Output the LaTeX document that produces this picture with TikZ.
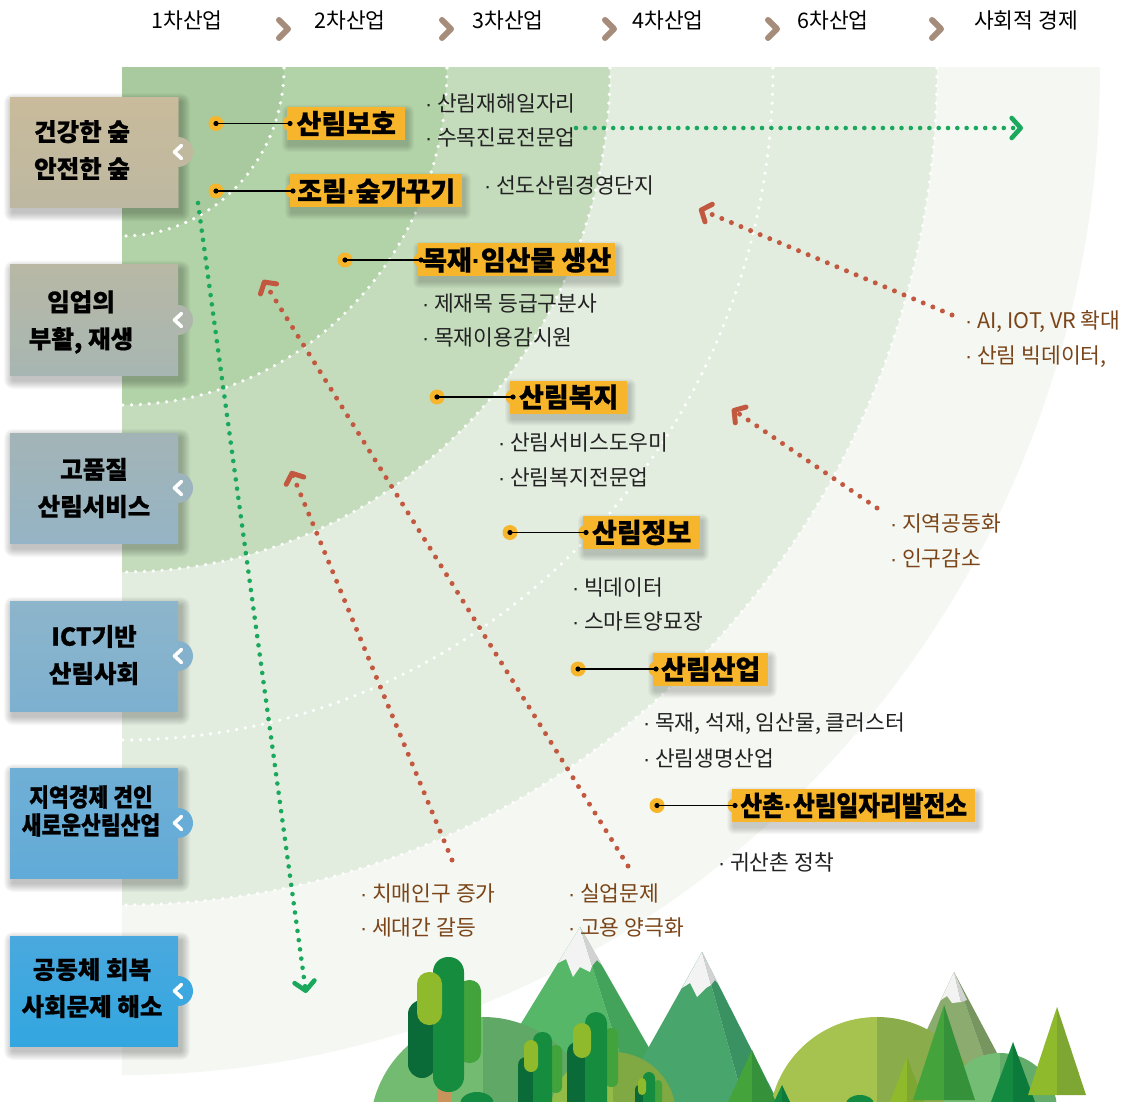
\documentclass[tikz,border=0pt]{standalone}
\usepackage{fontspec}
\setmainfont{Noto Sans CJK KR}
\newfontfamily\heavykr{Noto Sans CJK KR}[BoldFeatures={FakeBold=0.7}]
\newfontfamily\narrowkr{Noto Sans CJK KR}[FakeStretch=0.86,BoldFeatures={FakeBold=0.7}]
\newfontfamily\latinfont{Liberation Sans}
\usetikzlibrary{arrows.meta}

% narrow middle dot
\newcommand\md{{\latinfont\char"00B7}}

% panel bands
\definecolor{bandA}{HTML}{A8CA9E}
\definecolor{bandB}{HTML}{B2D2A8}
\definecolor{bandC}{HTML}{C4DCBC}
\definecolor{bandE}{HTML}{E3EDDF}
\definecolor{bandF}{HTML}{F5F8F2}
% accents
\definecolor{lbl}{HTML}{F7B52C}
\definecolor{grn}{HTML}{19A85C}
\definecolor{redd}{HTML}{C2583F}
\definecolor{brn}{HTML}{7B4519}
\definecolor{chev}{HTML}{A68C7A}
\definecolor{txt}{HTML}{222222}
% side boxes
\definecolor{s1t}{HTML}{C9BB9B}\definecolor{s1b}{HTML}{BDB8A2}\definecolor{s1c}{HTML}{C0B89F}
\definecolor{s2t}{HTML}{B8B8A5}\definecolor{s2b}{HTML}{A7B6B2}\definecolor{s2c}{HTML}{AFB7AC}
\definecolor{s3t}{HTML}{A3B4B6}\definecolor{s3b}{HTML}{95B4C5}\definecolor{s3c}{HTML}{9BB4BE}
\definecolor{s4t}{HTML}{8DB5CB}\definecolor{s4b}{HTML}{7DB0CF}\definecolor{s4c}{HTML}{84B2CD}
\definecolor{s5t}{HTML}{70AFD5}\definecolor{s5b}{HTML}{61ABD8}\definecolor{s5c}{HTML}{67ADD7}
\definecolor{s6t}{HTML}{4AA9DE}\definecolor{s6b}{HTML}{33A6E0}\definecolor{s6c}{HTML}{3DA7DF}
% landscape
\definecolor{m1l}{HTML}{55B767}\definecolor{m1r}{HTML}{43A35A}
\definecolor{m2l}{HTML}{48A56B}\definecolor{m2r}{HTML}{3A9162}
\definecolor{m3l}{HTML}{8BAB6F}\definecolor{m3r}{HTML}{77965F}
\definecolor{snow}{HTML}{F3F3F3}\definecolor{snowg}{HTML}{D2D2D2}
\definecolor{h1l}{HTML}{74BB72}\definecolor{h1r}{HTML}{5FA866}
\definecolor{h2l}{HTML}{93BB48}\definecolor{h2r}{HTML}{80A843}
\definecolor{h3l}{HTML}{A6C34F}\definecolor{h3r}{HTML}{8BAC4A}
\definecolor{h4l}{HTML}{74BD74}\definecolor{h4r}{HTML}{64AC69}
\definecolor{tdark}{HTML}{0B6B38}\definecolor{tmid}{HTML}{168C3F}
\definecolor{tright}{HTML}{42A33C}\definecolor{tlime}{HTML}{8FBA2C}
\definecolor{trunk}{HTML}{C8945B}
\definecolor{cgl}{HTML}{44A43B}\definecolor{cgr}{HTML}{35913A}
\definecolor{cll}{HTML}{8FBA2C}\definecolor{clr}{HTML}{7DA632}
\definecolor{cdl}{HTML}{138A3F}\definecolor{cdr}{HTML}{0B7A3A}

% two-tone cone tree: x, top y, half width, base y, left colour, right colour
\newcommand\conetree[6]{%
  \fill[#5] (#1,#2) -- (#1-#3,#4) -- (#1,#4) -- cycle;
  \fill[#6] (#1,#2) -- (#1,#4) -- (#1+#3,#4) -- cycle;}
% two-tone dome: centre x, centre y, radius, left colour, right colour
\newcommand\dome[5]{%
  \fill[#4] (#1,#2) -- (#1-#3,#2) arc[start angle=180,end angle=270,radius=#3] -- cycle;
  \fill[#5] (#1,#2) -- (#1,#2-#3) arc[start angle=270,end angle=360,radius=#3] -- cycle;}
% side tab with a white chevron: y centre, colour
\newcommand\sidetab[2]{%
  \fill[#2] (178,#1+15) arc[start angle=90,end angle=-90,radius=15] -- cycle;
  \draw[white,line width=3.6pt,line cap=round,line join=round] (181.5,#1-6.5) -- (174.5,#1) -- (181.5,#1+6.5);}
% soft shadow under a box: x1, y1, x2, y2, x offset, y offset, layers
\newcommand\softshadow[7]{%
  \foreach \s in {1,...,#7}
    \fill[black,opacity=0.028,rounded corners=\s pt]
      (#1+#5-\s,#2+#6-\s) rectangle (#3+#5+\s,#4+#6+\s);}

\begin{document}
\begin{tikzpicture}[x=1pt,y=-1pt,
  whitedots/.style={white,line width=3.6pt,dash pattern=on 0pt off 8.8pt,line cap=round},
  greendots/.style={grn,line width=4.6pt,dash pattern=on 0pt off 9.3pt,line cap=round},
  reddots/.style={redd,line width=5pt,dash pattern=on 0pt off 10.4pt,line cap=round},
  gtip/.style={-{Straight Barb[length=9pt,width=20pt,line width=4.6pt,round]}},
  rtip/.style={-{Straight Barb[length=8pt,width=19pt,line width=5pt,round]}},
  hdr/.style={font=\fontsize{21.5}{24}\selectfont,text=black,inner sep=0pt},
  hchev/.style={chev,line width=6pt,line cap=round,line join=round},
  bul/.style={font=\fontsize{21.5}{24}\selectfont,text=txt,anchor=west,inner sep=0pt},
  soc/.style={font=\fontsize{21.5}{24}\selectfont,text=brn,anchor=west,inner sep=0pt},
  lblbox/.style={fill=lbl,anchor=west,minimum height=33pt,inner xsep=2pt,inner ysep=0pt,
    font=\heavykr\bfseries\fontsize{27}{30}\selectfont,text=black},
  conn/.style={black,line width=1.3pt},
  sidebox/.style={minimum width=168pt,minimum height=110pt,inner sep=0pt},
  sidetext/.style={font=\heavykr\bfseries\fontsize{24.5}{37}\selectfont,text=black,align=center,inner sep=0pt},
]
\useasboundingbox (0,0) rectangle (1128,1102);
\fill[white] (0,0) rectangle (1128,1102);

% ---------- radial bands ----------
\begin{scope}
  \clip (122,68) rectangle (1128,1102);
  \fill[bandF] (122,68) ellipse[x radius=978,y radius=1007];
  \fill[bandE] (122,68) ellipse[x radius=815,y radius=837];
  \fill[bandC] (122,68) ellipse[x radius=488,y radius=504];
  \fill[bandB] (122,68) ellipse[x radius=325,y radius=337];
  \fill[bandA] (122,68) ellipse[x radius=162,y radius=168];
  \foreach \a/\b in {162/168,325/337,488/504,651/672,815/837}
    \draw[whitedots] (122,68) ellipse[x radius=\a,y radius=\b];
\end{scope}

% ---------- header ----------
\node[hdr] (h1) at (187,20) {1차산업};
\node[hdr] (h2) at (350,20) {2차산업};
\node[hdr] (h3) at (508,20) {3차산업};
\node[hdr] (h4) at (668,20) {4차산업};
\node[hdr] (h6) at (833,20) {6차산업};
\node[hdr] (hs) at (1026,20) {사회적 경제};
\foreach \x in {284,447,610,773,937}
  \draw[hchev] (\x-5,20) -- (\x+4,29) -- (\x-5,38);

% ---------- landscape ----------
\begin{scope}
  \clip (0,0) rectangle (1128,1102);
  % mountains
  \fill[m3l] (954,972) -- (893,1102) -- (1000,1102) -- cycle;
  \fill[m3r] (954,972) -- (1000,1102) -- (1023,1102) -- cycle;
  \fill[snow] (954,972) -- (941,1000) -- (947,996) -- (952,1003) -- (961,1002) -- cycle;
  \fill[snowg] (954,972) -- (961,1002) -- (967,1000) -- cycle;
  \fill[m1l] (580,927) -- (473,1102) -- (635,1102) -- cycle;
  \fill[m1r] (580,927) -- (635,1102) -- (680,1102) -- cycle;
  \fill[snow] (580,927) -- (558,963) -- (566,959) -- (573,977) -- (580,967) -- (590,972) -- (592,966) -- cycle;
  \fill[snowg] (580,927) -- (592,966) -- (597,960) -- (602,965) -- cycle;
  \fill[m2l] (702,952) -- (618,1102) -- (744,1102) -- cycle;
  \fill[m2r] (702,952) -- (744,1102) -- (778,1102) -- cycle;
  \fill[snow] (702,952) -- (682,988) -- (690,983) -- (697,997) -- (706,988) -- (711,985) -- cycle;
  \fill[snowg] (702,952) -- (711,985) -- (715,980) -- (719,985) -- cycle;
  % hills
  \dome{483}{1130}{113}{h1l}{h1r}
  \dome{613}{1115}{63}{h2l}{h2r}
  \dome{877}{1125}{108}{h3l}{h3r}
  \dome{1000}{1110}{57}{h4l}{h4r}
  % capsule trees
  \fill[trunk] (437,1080) rectangle (451,1102);
  \fill[tright,rounded corners=11pt] (458,980) rectangle (481,1063);
  \fill[tdark,rounded corners=14pt] (408,1000) rectangle (436,1078);
  \fill[tmid,rounded corners=15pt] (433,957) rectangle (464,1092);
  \fill[tlime,rounded corners=12pt] (417,972) rectangle (442,1025);
  \fill[cdl] (477,1104) ellipse[x radius=17,y radius=12];
  \fill[tright,rounded corners=6pt] (550,1045) rectangle (562,1093);
  \fill[tdark,rounded corners=8pt] (518,1057) rectangle (534,1115);
  \fill[tmid,rounded corners=9pt] (533,1032) rectangle (552,1115);
  \fill[tlime,rounded corners=7pt] (524,1040) rectangle (538,1072);
  \fill[tright,rounded corners=6pt] (605,1028) rectangle (618,1087);
  \fill[tdark,rounded corners=10pt] (567,1042) rectangle (588,1115);
  \fill[tmid,rounded corners=11pt] (585,1012) rectangle (607,1115);
  \fill[tlime,rounded corners=9pt] (573,1023) rectangle (591,1058);
  \fill[tright,rounded corners=4pt] (654,1080) rectangle (662,1106);
  \fill[tdark,rounded corners=4pt] (635,1085) rectangle (644,1115);
  \fill[tmid,rounded corners=6pt] (643,1072) rectangle (655,1115);
  \fill[tlime,rounded corners=4pt] (638,1078) rectangle (646,1095);
  % cone trees
  \conetree{752}{1050}{24}{1102}{cgl}{cgr}
  \conetree{782}{1085}{8}{1102}{cdl}{cdr}
  \fill[cdl] (860,1104) ellipse[x radius=14,y radius=9];
  \conetree{907}{1057}{17}{1102}{cll}{clr}
  \conetree{944}{1005}{31}{1100}{cgl}{cgr}
  \conetree{1013}{1042}{22}{1102}{cdl}{cdr}
  \conetree{1057}{1007}{29}{1095}{cll}{clr}
\end{scope}

% ---------- trend arrows ----------
\coordinate (gv0) at (198,203);
\coordinate (gv1) at (306,993);
\coordinate (gh0) at (576,128);
\coordinate (gh1) at (1023,128);
\draw[greendots,gtip] (gv0) -- (gv1);
\draw[greendots,gtip] (gh0) -- (gh1);

\coordinate (r1a) at (952,315);  \coordinate (r1b) at (699,209);
\coordinate (r2a) at (877,508);  \coordinate (r2b) at (732,409);
\coordinate (r3a) at (628,866);  \coordinate (r3b) at (263,280);
\coordinate (r4a) at (452,860);  \coordinate (r4b) at (291,471);
\draw[reddots,rtip] (r1a) -- (r1b);
\draw[reddots,rtip] (r2a) -- (r2b);
\draw[reddots,rtip] (r3a) -- (r3b);
\draw[reddots,rtip] (r4a) -- (r4b);

% ---------- side boxes ----------
\foreach \yc in {152.5,320,488,656,823,991}
  \softshadow{10}{\yc-55}{178}{\yc+55}{3}{5}{9}
\node[sidebox,top color=s1t,bottom color=s1b] (s1) at (94,152.5) {};
\node[sidebox,top color=s2t,bottom color=s2b] (s2) at (94,320) {};
\node[sidebox,top color=s3t,bottom color=s3b] (s3) at (94,488) {};
\node[sidebox,top color=s4t,bottom color=s4b] (s4) at (94,656) {};
\node[sidebox,top color=s5t,bottom color=s5b] (s5) at (94,823) {};
\node[sidebox,top color=s6t,bottom color=s6b] (s6) at (94,991) {};
\sidetab{152}{s1c}
\sidetab{320}{s2c}
\sidetab{488}{s3c}
\sidetab{656}{s4c}
\sidetab{823}{s5c}
\sidetab{991}{s6c}
\node[sidetext] (s1t) at (82,150) {건강한 숲\\안전한 숲};
\node[sidetext] (s2t) at (81,322) {임업의\\부활, 재생};
\node[sidetext] (s3t) at (94,488) {고품질\\산림서비스};
\node[sidetext] (s4t) at (94,655) {ICT기반\\산림사회};
\node[sidetext,font=\narrowkr\bfseries\fontsize{25}{28}\selectfont] (s5t) at (91,811) {지역경제 견인\\새로운산림산업};
\node[sidetext] (s6t) at (92,988) {공동체 회복\\사회문제 해소};

% ---------- labelled items ----------
\softshadow{287}{107}{405}{140}{2}{5}{7}
\softshadow{290}{174.5}{462}{207.5}{2}{5}{7}
\softshadow{418}{243.5}{615}{276.5}{2}{5}{7}
\softshadow{510}{380.5}{627}{413.5}{2}{5}{7}
\softshadow{583}{516}{700}{549}{2}{5}{7}
\softshadow{653}{652.5}{768}{685.5}{2}{5}{7}
\softshadow{732}{789}{975}{822}{2}{5}{7}
\foreach \x/\y in {290/123.5,293/191,421/260,513/397,586/532.5,656/669,735/805.5}
  \fill[lbl] (\x,\y) circle[radius=7.5];
\node[lblbox,minimum width=118pt] (b1) at (287,123.5) {산림보호};
\node[lblbox,minimum width=172pt] (b2) at (290,191) {조림\md 숲가꾸기};
\node[lblbox,minimum width=197pt] (b3) at (418,260) {목재\md 임산물 생산};
\node[lblbox,minimum width=117pt] (b4) at (510,397) {산림복지};
\node[lblbox,minimum width=117pt] (b5) at (583,532.5) {산림정보};
\node[lblbox,minimum width=115pt] (b6) at (653,669) {산림산업};
\node[lblbox,minimum width=243pt,font=\narrowkr\bfseries\fontsize{27.5}{30}\selectfont] (b7) at (732,805.5) {산촌\md 산림일자리발전소};

\foreach \n/\x/\y in {1/216/123.5,2/216/191,3/345/260,4/437/397,5/510/532.5,6/578/669,7/657/805.5}{
  \coordinate (p\n) at (\x,\y);
  \fill[lbl] (p\n) circle[radius=7.5];
  \draw[conn] (p\n) -- ([xshift=3pt]b\n.west);
  \fill[black] (p\n) circle[radius=2.6];
  \fill[black] ([xshift=3pt]b\n.west) circle[radius=2.6];
}

% ---------- item details ----------
\node[bul] (d1a) at (425,103) {\md\ 산림재해일자리};
\node[bul] (d1b) at (425,137) {\md\ 수목진료전문업};
\node[bul] (d2a) at (484,185) {\md\ 선도산림경영단지};
\node[bul] (d3a) at (422,303) {\md\ 제재목 등급구분사};
\node[bul] (d3b) at (422,337) {\md\ 목재이용감시원};
\node[bul] (d4a) at (498,442) {\md\ 산림서비스도우미};
\node[bul] (d4b) at (498,477) {\md\ 산림복지전문업};
\node[bul] (d5a) at (572,587) {\md\ 빅데이터};
\node[bul] (d5b) at (572,621) {\md\ 스마트양묘장};
\node[bul] (d6a) at (643,724) {\md\ 목재, 석재, 임산물, 클러스터};
\node[bul] (d6b) at (643,758) {\md\ 산림생명산업};
\node[bul] (d7a) at (718,862) {\md\ 귀산촌 정착};

% ---------- social issues ----------
\node[soc] (q1a) at (965,322) {\md\ AI, IOT, VR 확대};
\node[soc] (q1b) at (965,357) {\md\ 산림 빅데이터,};
\node[soc] (q2a) at (890,523) {\md\ 지역공동화};
\node[soc] (q2b) at (890,558) {\md\ 인구감소};
\node[soc] (q3a) at (360,893) {\md\ 치매인구 증가};
\node[soc] (q3b) at (360,927) {\md\ 세대간 갈등};
\node[soc] (q4a) at (568,893) {\md\ 실업문제};
\node[soc] (q4b) at (568,927) {\md\ 고용 양극화};
\end{tikzpicture}
\end{document}
